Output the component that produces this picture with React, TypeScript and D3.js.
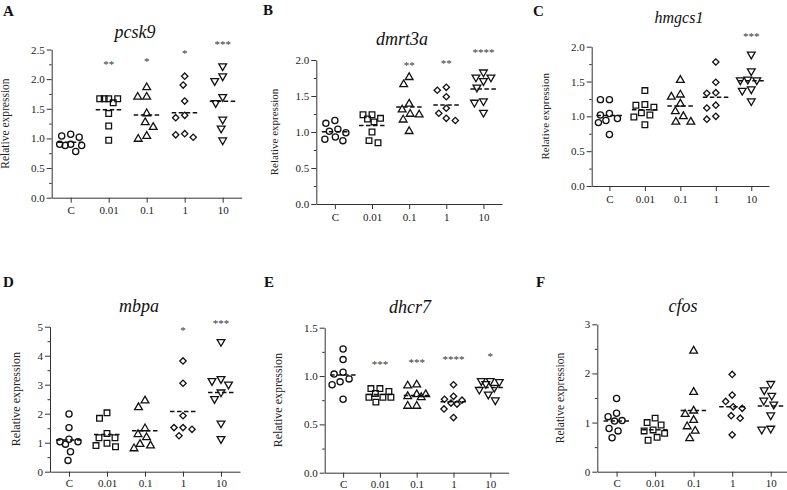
import { useRef, useEffect } from "react";
import * as d3 from "d3";

const categories = ["C", "0.01", "0.1", "1", "10"];

// relative expression per group (C, 0.01, 0.1, 1, 10)
const pcsk9 = [
  [1.04, 1.02, 1.07, 0.9, 0.88, 0.88, 0.9, 0.78],
  [1.67, 1.67, 1.67, 1.67, 1.6, 1.42, 1.21, 0.97],
  [1.86, 1.7, 1.7, 1.42, 1.27, 1.19, 0.99, 1.04],
  [2.05, 1.9, 1.63, 1.39, 1.35, 1.08, 1.02, 1.06],
  [2.22, 2.05, 1.97, 1.7, 1.6, 1.32, 1.17, 0.97],
];
const pcsk9Stars = ["", "**", "*", "*", "***"];
const pcsk9StarY = [0, 2.28, 2.32, 2.46, 2.61];

const dmrt3a = [
  [1.16, 1.12, 1.04, 1.01, 0.99, 0.93, 0.88, 0.9],
  [1.24, 1.19, 1.24, 1.18, 1.14, 1.0, 0.85, 0.88],
  [1.76, 1.66, 1.39, 1.31, 1.24, 1.25, 1.17, 1.01],
  [1.62, 1.58, 1.49, 1.33, 1.26, 1.16, 1.19],
  [1.83, 1.76, 1.76, 1.71, 1.62, 1.43, 1.41, 1.27],
];
const dmrt3aStars = ["", "", "**", "**", "****"];
const dmrt3aStarY = [0, 0, 1.95, 1.97, 2.12];

const hmgcs1 = [
  [1.24, 1.24, 1.02, 1.04, 0.94, 0.91, 0.97, 0.74],
  [1.37, 1.16, 1.17, 1.13, 1.05, 1.02, 0.99, 0.88],
  [1.52, 1.31, 1.28, 1.18, 1.07, 1.0, 0.92, 0.92],
  [1.78, 1.49, 1.33, 1.34, 1.16, 1.12, 1.0, 0.96],
  [1.89, 1.65, 1.53, 1.52, 1.52, 1.39, 1.37, 1.22],
];
const hmgcs1Stars = ["", "", "", "", "***"];
const hmgcs1StarY = [0, 0, 0, 0, 2.17];

const mbpa = [
  [1.99, 1.52, 1.12, 0.95, 1.03, 1.03, 0.69, 0.39],
  [2.03, 1.84, 1.17, 1.17, 0.98, 1.32, 0.86, 0.9],
  [2.45, 2.22, 1.49, 1.29, 1.18, 0.95, 0.8, 0.9],
  [3.82, 3.05, 1.93, 1.52, 1.52, 1.46, 1.24],
  [4.48, 3.13, 3.2, 3.01, 2.74, 2.51, 1.67, 1.13],
];
const mbpaStars = ["", "", "", "*", "***"];
const mbpaStarY = [0, 0, 0, 4.91, 5.15];

const dhcr7 = [
  [1.28, 1.17, 1.02, 1.04, 0.94, 0.91, 0.97, 0.76],
  [0.87, 0.84, 0.87, 0.82, 0.78, 0.73, 0.78, 0.78],
  [0.9, 0.91, 0.81, 0.78, 0.79, 0.81, 0.69, 0.69],
  [0.91, 0.76, 0.79, 0.75, 0.71, 0.72, 0.66, 0.57],
  [0.94, 0.95, 0.95, 0.92, 0.88, 0.86, 0.81, 0.75],
];
const dhcr7Stars = ["", "***", "***", "****", "*"];
const dhcr7StarY = [0, 1.13, 1.16, 1.19, 1.22];

const cfos = [
  [1.49, 1.12, 1.19, 1.03, 1.04, 0.88, 0.83, 0.69],
  [1.09, 0.95, 1.0, 0.85, 0.78, 0.83, 0.7, 0.64],
  [2.46, 1.62, 1.17, 1.24, 1.05, 0.92, 0.83, 0.68],
  [1.98, 1.56, 1.43, 1.29, 1.32, 1.14, 1.09, 0.75],
  [1.79, 1.66, 1.55, 1.45, 1.37, 1.15, 0.86, 0.88],
];
const cfosStars = ["", "", "", "", ""];
const cfosStarY = [0, 0, 0, 0, 0];

const panels = [
  { letter: "A", gene: "pcsk9", values: pcsk9, stars: pcsk9Stars, starY: pcsk9StarY, max: 2.5, step: 0.5, fmt: ".1f",
    x0: 51.7, x1: 241.7, yTop: 49.5, yBot: 197.7, lx: 3, ly: 16, tx: 135, ty: 37.5, tfs: 18, ax: 8.5, afs: 11.5 },
  { letter: "B", gene: "dmrt3a", values: dmrt3a, stars: dmrt3aStars, starY: dmrt3aStarY, max: 2, step: 0.5, fmt: ".1f",
    x0: 316.3, x1: 502, yTop: 60, yBot: 204, lx: 263, ly: 15, tx: 402, ty: 45, tfs: 18, ax: 278, afs: 11 },
  { letter: "C", gene: "hmgcs1", values: hmgcs1, stars: hmgcs1Stars, starY: hmgcs1StarY, max: 2, step: 0.5, fmt: ".1f",
    x0: 591.7, x1: 769, yTop: 46.7, yBot: 186, lx: 533, ly: 16, tx: 679, ty: 23, tfs: 16, ax: 549, afs: 11 },
  { letter: "D", gene: "mbpa", values: mbpa, stars: mbpaStars, starY: mbpaStarY, max: 5, step: 1, fmt: "d",
    x0: 50, x1: 240, yTop: 326.7, yBot: 471.7, lx: 3, ly: 287, tx: 139, ty: 311.7, tfs: 18, ax: 20, afs: 12 },
  { letter: "E", gene: "dhcr7", values: dhcr7, stars: dhcr7Stars, starY: dhcr7StarY, max: 1.5, step: 0.5, fmt: ".1f",
    x0: 324.7, x1: 508.7, yTop: 327.7, yBot: 472.7, lx: 264, ly: 287, tx: 410, ty: 313, tfs: 18, ax: 282, afs: 12 },
  { letter: "F", gene: "cfos", values: cfos, stars: cfosStars, starY: cfosStarY, max: 3, step: 1, fmt: "d",
    x0: 597.3, x1: 790, yTop: 324.3, yBot: 471.7, lx: 536, ly: 287, tx: 683, ty: 311.7, tfs: 18, ax: 564, afs: 11.5 },
];

const serif = "Liberation Serif, DejaVu Serif, serif";

// bounded swarm: spread markers sideways, but never wider than +/- w
function swarm(ys: number[], d: number, w: number) {
  const order = ys.map((_, i) => i).sort((a, b) => ys[a] - ys[b]);
  const placed: { x: number; y: number }[] = [];
  const xs = new Array(ys.length).fill(0);
  const grid = d3.range(-w, w + 0.01, 0.5);
  for (const i of order) {
    const y = ys[i];
    let best = 0;
    let bestScore = -1;
    grid.forEach((c) => {
      const near = placed.length ? d3.min(placed, (p) => Math.hypot(p.x - c, p.y - y))! : d;
      const score = Math.min(near, d);
      if (score > bestScore + 1e-6 || (Math.abs(score - bestScore) < 1e-6 && Math.abs(c) < Math.abs(best))) {
        best = c;
        bestScore = score;
      }
    });
    xs[i] = best;
    placed.push({ x: best, y });
  }
  return xs;
}

const shapes = [
  { type: d3.symbolCircle, size: 30, rot: 0 },
  { type: d3.symbolSquare, size: 32, rot: 0 },
  { type: d3.symbolTriangle, size: 26, rot: 0 },
  { type: d3.symbolSquare, size: 20, rot: 45 },
  { type: d3.symbolTriangle, size: 26, rot: 180 },
];

function App() {
  const svgRef = useRef<SVGSVGElement>(null);

  useEffect(() => {
    const svg = d3.select(svgRef.current);
    svg.selectAll("*").remove();

    panels.forEach((p) => {
      const g = svg.append("g");
      const x = d3.scalePoint().domain(categories).range([p.x0, p.x1]).padding(0.5);
      const y = d3.scaleLinear().domain([0, p.max]).range([p.yBot, p.yTop]);
      const major = d3.range(0, p.max + 1e-9, p.step);
      const minor = d3.range(p.step / 2, p.max, p.step);

      // y axis
      const yAxis = g.append("g").attr("transform", `translate(${p.x0},0)`).style("color", "#333")
        .call(d3.axisLeft(y).tickValues(major).tickSize(5).tickSizeOuter(0).tickPadding(2).tickFormat(d3.format(p.fmt)));
      yAxis.selectAll("text").style("font-family", serif).style("font-size", "11px").attr("fill", "#222");
      g.append("g").attr("transform", `translate(${p.x0},0)`).style("color", "#333")
        .call(d3.axisLeft(y).tickValues(minor).tickSize(2.5).tickFormat(() => ""))
        .select(".domain").remove();

      // x axis
      const xAxis = g.append("g").attr("transform", `translate(0,${p.yBot})`).style("color", "#333")
        .call(d3.axisBottom(x).tickSize(5).tickSizeOuter(0).tickPadding(p.yBot > 400 ? 3 : 4));
      xAxis.selectAll("text").style("font-family", serif).style("font-size", "11px").attr("fill", "#222");

      // labels
      g.append("text").attr("x", p.lx).attr("y", p.ly).text(p.letter)
        .style("font-family", serif).style("font-weight", "bold").style("font-size", "15px").attr("fill", "#111");
      g.append("text").attr("x", p.tx).attr("y", p.ty).text(p.gene).attr("text-anchor", "middle")
        .style("font-family", serif).style("font-style", "italic").style("font-size", p.tfs + "px").attr("fill", "#111");
      g.append("text").attr("transform", `translate(${p.ax},${(p.yTop + p.yBot) / 2}) rotate(-90)`)
        .attr("text-anchor", "middle").text("Relative expression")
        .style("font-family", serif).style("font-size", p.afs + "px").attr("fill", "#222");

      // points + mean lines
      p.values.forEach((vals, ci) => {
        const cx = x(categories[ci])!;
        const ys = vals.map((v) => y(v));
        const xs = swarm(ys, 9, 11);
        const sh = shapes[ci];
        const sym = d3.symbol().type(sh.type).size(sh.size);
        g.append("g").selectAll("path").data(vals).join("path")
          .attr("d", sym)
          .attr("transform", (_, i) => `translate(${cx + xs[i]},${ys[i]}) rotate(${sh.rot})`)
          .attr("fill", "none").attr("stroke", "#111").attr("stroke-width", 1.3);
        const m = d3.mean(vals)!;
        g.append("line").attr("x1", cx - 13).attr("x2", cx + 13).attr("y1", y(m)).attr("y2", y(m))
          .attr("stroke", "#111").attr("stroke-width", 1.5).attr("stroke-dasharray", "4.5,2.5");
        if (p.stars[ci]) {
          g.append("text").attr("x", cx).attr("y", y(p.starY[ci]) + 5).attr("text-anchor", "middle")
            .text(p.stars[ci]).style("font-family", serif).style("font-size", "11px")
            .style("opacity", 0.99).attr("fill", "#333");
        }
      });
    });
  }, []);

  return (
    <svg ref={svgRef} width={787} height={490}
      style={{ position: "absolute", left: 0, top: 0, background: "#fff" }} />
  );
}

export default App;
